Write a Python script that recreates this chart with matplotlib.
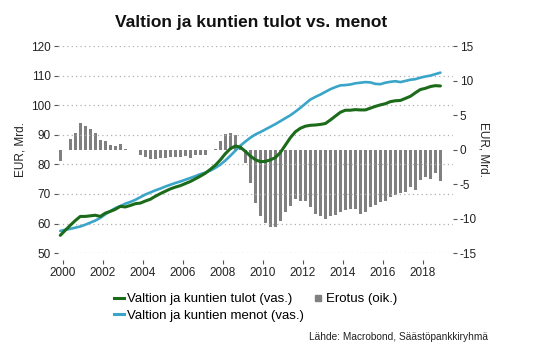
import numpy as np
import matplotlib
matplotlib.use("Agg")
import matplotlib.pyplot as plt
from matplotlib.lines import Line2D

plt.rcParams['font.family'] = ['Liberation Sans', 'DejaVu Sans']
plt.rcParams['axes.unicode_minus'] = False

# quarterly data, 2000 - 2018
tulot = [56.0, 57.7, 59.4, 61.0, 62.4, 62.4, 62.6, 62.8, 62.4, 63.5,
         64.1, 64.8, 65.8, 65.6, 66.1, 66.7, 66.9, 67.6, 68.2, 69.2,
         70.1, 70.9, 71.7, 72.3, 72.8, 73.5, 74.2, 75.1, 76.0, 77.0,
         78.3, 79.7, 81.5, 83.6, 85.3, 86.2, 85.8, 84.4, 82.8, 81.6,
         80.9, 81.0, 81.5, 82.3, 84.0, 86.5, 89.0, 91.0, 92.2, 92.9,
         93.2, 93.3, 93.5, 93.8, 95.0, 96.3, 97.6, 98.3, 98.3, 98.5,
         98.4, 98.4, 99.0, 99.6, 100.1, 100.5, 101.2, 101.5, 101.6, 102.3,
         103.0, 104.2, 105.3, 105.7, 106.3, 106.6, 106.5]
menot = [57.5, 57.9, 58.2, 58.6, 59.0, 59.6, 60.3, 61.0, 61.9, 63.1,
         64.2, 65.2, 65.9, 66.7, 67.3, 68.0, 68.9, 69.8, 70.5, 71.2,
         71.8, 72.5, 73.1, 73.7, 74.2, 74.8, 75.4, 76.0, 76.7, 77.2,
         77.9, 78.8, 79.9, 81.3, 82.9, 84.6, 86.3, 87.7, 89.0, 90.1,
         90.9, 91.8, 92.7, 93.6, 94.6, 95.6, 96.6, 97.8, 99.1, 100.5,
         101.9, 102.8, 103.6, 104.5, 105.4, 106.1, 106.7, 106.8, 107.0, 107.4,
         107.6, 107.8, 107.7, 107.2, 107.1, 107.6, 107.9, 108.1, 107.8, 108.2,
         108.6, 108.8, 109.3, 109.7, 110.0, 110.5, 111.0]
erotus = [-1.6, 0.0, 1.5, 2.4, 3.8, 3.4, 3.0, 2.4, 1.4, 1.3,
          0.65, 0.5, 0.85, 0.1, 0.0, -0.1, -0.8, -1.05, -1.3, -1.3,
          -1.25, -1.2, -1.1, -1.1, -1.1, -1.0, -1.15, -0.8, -0.8, -0.8,
          0.0, 0.1, 1.3, 2.2, 2.4, 2.1, 0.5, -2.0, -4.9, -7.7,
          -9.6, -10.7, -11.2, -11.2, -10.3, -9.0, -8.2, -7.1, -7.4, -7.4,
          -8.3, -9.3, -9.6, -10.0, -9.6, -9.5, -9.0, -8.7, -8.6, -8.6,
          -9.3, -9.0, -8.3, -8.0, -7.6, -7.4, -6.9, -6.6, -6.35, -6.1,
          -5.4, -5.9, -4.4, -3.95, -4.2, -3.4, -4.5]
t = 1999.875 + 0.25 * np.arange(len(erotus))  # quarter positions in years

years = list(range(2000, 2019, 2))
left_ticks = list(range(50, 121, 10))
right_ticks = list(range(-15, 16, 5))

green = '#1b6b1b'
blue = '#3aa5c8'
grey = '#808080'
txt = '#222222'

fig = plt.figure(figsize=(5.45, 3.54), dpi=100)
ax = fig.add_axes([0.106, 0.285, 0.725, 0.585])
ax2 = ax.twinx()

# bars on the right axis, lines on the left axis above them
ax2.bar(t, erotus, width=0.15, color=grey, zorder=2)
ax.set_zorder(ax2.get_zorder() + 1)
ax.patch.set_visible(False)

ax.plot(t, menot, color=blue, lw=1.9, solid_capstyle='round')
ax.plot(t, tulot, color=green, lw=2.2, solid_capstyle='round')

ax.set_xlim(1999.75, 2019.5)
ax.set_ylim(50, 120)
ax2.set_ylim(-15, 15)
ax.set_xticks(years)
ax.set_yticks(left_ticks)
ax2.set_yticks(right_ticks)

for a in (ax, ax2):
    for s in a.spines.values():
        s.set_visible(False)
ax.spines['bottom'].set_position(('outward', 5))

ax.grid(axis='y', color='#b0b0b0', linestyle=(0, (1, 2.5)), lw=0.9)
ax.tick_params(axis='y', length=3, width=0.8, color='#555555', pad=2,
               labelsize=8.5, labelcolor=txt)
ax.tick_params(axis='x', length=3, width=0.8, color='#555555', pad=2,
               labelsize=8.5, labelcolor=txt)
ax2.tick_params(axis='y', length=3, width=0.8, color='#555555', pad=2,
                labelsize=8.5, labelcolor=txt)

ax.set_ylabel('EUR, Mrd.', fontsize=8.5, color=txt, labelpad=3)
ax2.set_ylabel('EUR, Mrd.', fontsize=8.5, color=txt, rotation=270, labelpad=9)

fig.text(0.46, 0.937, 'Valtion ja kuntien tulot vs. menot', ha='center',
         va='center', fontsize=12.5, fontweight='bold', color='#111111')

handles = [Line2D([], [], color=green, lw=2.2),
           Line2D([], [], color=blue, lw=2.2),
           Line2D([], [], color=grey, marker='s', ls='none', markersize=4)]
labels = ['Valtion ja kuntien tulot (vas.)',
          'Valtion ja kuntien menot (vas.)',
          'Erotus (oik.)']
fig.legend(handles, labels, ncol=2, loc='upper left',
           bbox_to_anchor=(0.21, 0.172), frameon=False, fontsize=9.5,
           handlelength=0.75, handletextpad=0.2, columnspacing=0.7,
           labelspacing=0.3, borderaxespad=0, borderpad=0)

fig.text(0.895, 0.048, 'Lähde: Macrobond, Säästöpankkiryhmä', ha='right',
         va='center', fontsize=7.3, color=txt)

fig.savefig('out.png', dpi=100)
